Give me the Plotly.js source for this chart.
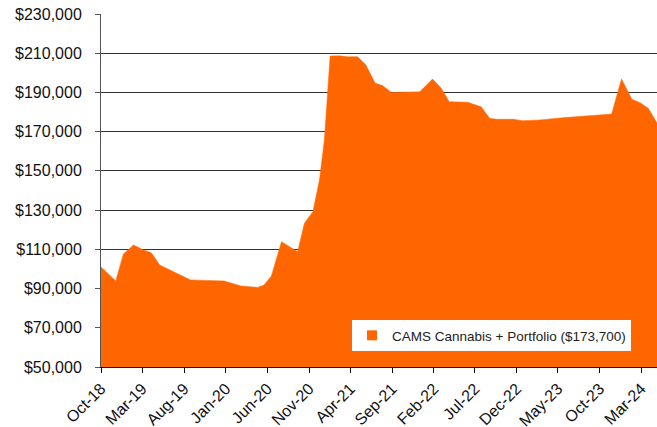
<!DOCTYPE html>
<html>
<head>
<meta charset="utf-8">
<script src="https://cdn.plot.ly/plotly-3.0.1.min.js"></script>
<style>
  html, body { margin: 0; padding: 0; background: #fff; }
  #chart { width: 657px; height: 427px; }
</style>
</head>
<body>
<div id="chart"></div>
<script>
// Portfolio value readings (date, value)
const dates = ['2018-10-01','2018-11-24','2018-12-22','2019-01-28','2019-03-06','2019-04-03','2019-05-04','2019-06-07',
  '2019-08-25','2019-12-26','2020-02-26','2020-04-26','2020-05-20','2020-06-16','2020-07-23','2020-09-20',
  '2020-10-15','2020-11-15','2020-12-09','2020-12-27','2021-01-17','2021-02-21','2021-03-21','2021-04-28',
  '2021-05-28','2021-07-01','2021-07-28','2021-08-29','2021-12-11','2022-01-27','2022-02-28','2022-03-29',
  '2022-06-05','2022-07-24','2022-08-24','2022-09-18','2022-11-18','2022-12-24','2023-02-25','2023-05-19',
  '2023-08-14','2023-11-14','2023-12-20','2024-01-27','2024-02-26','2024-03-27','2024-05-01'];
const values = [101000, 93900, 107600, 112200, 109700, 108300, 102000, 99800,
  94400, 93900, 91300, 90600, 91800, 96400, 113900, 108800,
  123300, 129200, 145400, 165700, 208600, 208700, 208200, 208200,
  204000, 194700, 193500, 190000, 190300, 196800, 192100, 185300,
  185000, 182700, 176800, 176300, 176300, 175600, 176000, 177100,
  178000, 179000, 196900, 186500, 184800, 181900, 173700];

const seriesName = 'CAMS Cannabis + Portfolio ($173,700)';
const tickDates = ['2018-10-01','2019-03-01','2019-08-01','2020-01-01','2020-06-01','2020-11-01','2021-04-01',
  '2021-09-01','2022-02-01','2022-07-01','2022-12-01','2023-05-01','2023-10-01','2024-03-01'];
const tickLabels = ['Oct-18','Mar-19','Aug-19','Jan-20','Jun-20','Nov-20','Apr-21',
  'Sep-21','Feb-22','Jul-22','Dec-22','May-23','Oct-23','Mar-24'];

const orange = '#FF6600';
const font = 'Liberation Sans, Arial, sans-serif';

const traces = [
  {
    x: dates, y: values, type: 'scatter', mode: 'lines',
    fill: 'tozeroy', fillcolor: orange,
    line: { color: orange, width: 0.5 },
    showlegend: false, hoverinfo: 'x+y'
  },
  {
    x: [null], y: [null], type: 'scatter', mode: 'markers',
    name: seriesName,
    marker: { symbol: 'square', size: 10, color: orange },
    showlegend: true
  }
];

const layout = {
  width: 657, height: 427,
  margin: { l: 101, r: 0, t: 14, b: 60 },
  paper_bgcolor: '#fff', plot_bgcolor: '#fff',
  font: { family: font, color: '#111' },
  xaxis: {
    type: 'date',
    range: ['2018-10-01', '2024-04-28'],
    tickvals: tickDates, ticktext: tickLabels,
    tickangle: -45,
    tickfont: { family: font, size: 16, color: '#111' },
    showgrid: false, zeroline: false,
    showline: true, linecolor: '#111', linewidth: 1,
    ticks: 'outside', ticklen: 5, tickcolor: '#111'
  },
  yaxis: {
    range: [50000, 230000],
    dtick: 20000, tick0: 50000,
    tickformat: '$,.0f',
    tickfont: { family: font, size: 16, color: '#111' },
    showgrid: true, gridcolor: '#333', gridwidth: 1,
    zeroline: false,
    showline: true, linecolor: '#555', linewidth: 1,
    ticks: 'outside', ticklen: 5, tickcolor: '#555',
    ticklabelstandoff: 10
  },
  legend: {
    x: 0.4514, xanchor: 'left', y: 0.133, yanchor: 'top',
    bgcolor: '#fff', borderwidth: 0,
    font: { family: font, size: 13.5, color: '#222' }
  },
  showlegend: true
};

Plotly.newPlot('chart', traces, layout, { displayModeBar: false, staticPlot: true });
</script>
</body>
</html>
